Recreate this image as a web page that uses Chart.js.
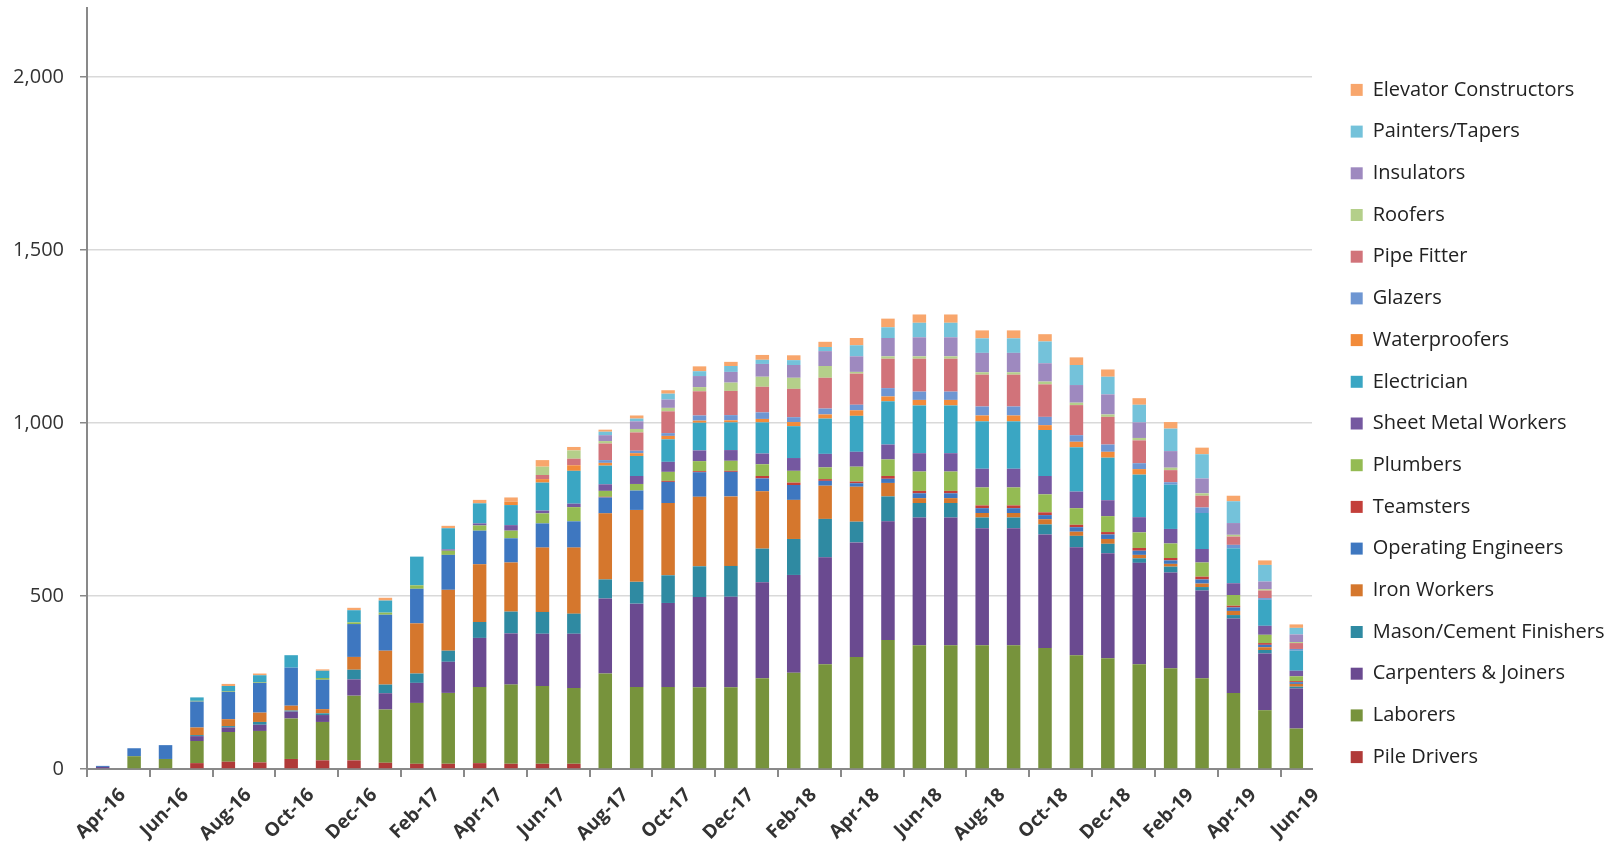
<!DOCTYPE html>
<html>
<head>
<meta charset="utf-8">
<script src="https://cdn.jsdelivr.net/npm/chart.js@4.4.1/dist/chart.umd.min.js"></script>
<style>
  html, body { margin: 0; padding: 0; background: #fff; }
  #wrap { width: 1620px; height: 849px; }
</style>
</head>
<body>
<div id="wrap"><canvas id="chart"></canvas></div>
<script>
var months = ["Apr-16","May-16","Jun-16","Jul-16","Aug-16","Sep-16","Oct-16","Nov-16","Dec-16","Jan-17","Feb-17","Mar-17",
  "Apr-17","May-17","Jun-17","Jul-17","Aug-17","Sep-17","Oct-17","Nov-17","Dec-17","Jan-18","Feb-18","Mar-18",
  "Apr-18","May-18","Jun-18","Jul-18","Aug-18","Sep-18","Oct-18","Nov-18","Dec-18","Jan-19","Feb-19","Mar-19",
  "Apr-19","May-19","Jun-19"];

var pileDrivers   = [0,0,0,17,21,19,29,25,25,18,15,15,17,15,15,15,0,0,0,0,0,0,0,0,0,0,0,0,0,0,0,0,0,0,0,0,0,0,0];
var laborers      = [0,37,29,64,86,91,117,111,187,154,176,205,220,229,225,219,276,237,237,236,236,262,278,303,324,373,358,358,358,358,350,329,320,303,291,262,220,170,117];
var carpenters    = [6,0,0,14,13,18,20,20,47,47,58,90,142,148,151,157,217,241,243,261,262,278,283,309,331,343,369,369,338,338,328,312,304,293,277,254,215,164,116];
var masons        = [0,0,0,3,4,8,3,5,28,25,27,32,46,63,63,58,55,63,80,89,89,97,104,111,60,72,42,42,31,31,29,33,27,13,17,10,10,10,5];
var ironWorkers   = [0,0,0,22,20,27,14,12,37,98,145,176,167,142,186,191,191,208,209,201,201,166,113,96,101,39,14,14,13,13,15,12,14,10,8,10,12,8,8];
var operatingEng  = [3,23,40,75,79,86,110,85,95,104,100,101,97,70,70,76,46,56,61,71,71,37,43,14,10,12,14,14,14,14,12,13,13,12,10,12,10,7,5];
var teamsters     = [0,0,0,0,0,0,0,0,0,0,0,0,0,0,0,0,2,0,3,3,3,7,7,5,5,8,7,7,8,8,8,7,7,8,7,8,5,5,3];
var plumbers      = [0,0,0,2,2,2,0,5,5,6,10,12,15,22,29,41,17,19,26,29,29,34,34,34,43,48,56,56,52,52,52,48,46,45,42,41,31,24,14];
var sheetMetal    = [0,0,0,0,0,0,0,0,0,0,0,4,6,16,8,10,19,23,29,31,31,31,37,39,43,43,53,53,54,54,53,48,46,44,42,39,34,26,16];
var electricians  = [0,0,0,10,15,20,36,21,35,35,83,61,58,58,81,95,54,58,65,80,80,90,92,102,104,125,138,138,137,137,133,128,123,123,128,104,101,75,58];
var waterproofers = [0,0,0,0,0,0,0,0,0,0,0,0,0,10,10,16,8,8,10,6,6,10,12,12,16,14,16,16,17,17,14,16,17,16,0,0,0,0,0];
var glazers       = [0,0,0,0,0,0,0,0,0,0,0,0,0,0,0,0,8,7,8,15,15,19,14,17,16,24,24,24,26,26,24,19,21,17,7,16,10,5,5];
var pipeFitters   = [0,0,0,0,0,0,0,0,0,0,0,0,0,0,12,19,48,53,63,70,70,74,82,89,90,85,95,95,92,92,94,87,80,66,35,34,24,22,17];
var roofers       = [0,0,0,0,0,0,0,0,0,0,0,0,0,0,24,24,7,10,10,12,24,29,32,34,5,7,7,7,7,7,8,7,7,7,7,7,5,4,3];
var insulators    = [0,0,0,0,0,0,0,0,0,0,0,0,0,0,0,0,17,22,24,32,31,37,37,43,45,53,55,55,56,56,53,51,58,45,48,43,34,22,22];
var painters      = [0,0,0,0,0,0,0,0,0,0,0,0,0,0,0,0,10,8,17,14,17,12,14,12,32,31,42,42,42,42,63,58,51,51,65,70,63,48,19];
var elevator      = [0,0,0,0,6,5,0,4,7,8,0,7,10,12,19,10,6,9,10,14,12,14,14,15,21,25,24,24,23,23,21,22,21,19,19,19,16,13,10];

var yTicks = [0, 500, 1000, 1500, 2000];

// bottom of the stack first
var SERIES = [
  { label: "Pile Drivers", data: pileDrivers, color: "#B03A38" },
  { label: "Laborers", data: laborers, color: "#77933C" },
  { label: "Carpenters & Joiners", data: carpenters, color: "#6A4A90" },
  { label: "Mason/Cement Finishers", data: masons, color: "#2F8AA2" },
  { label: "Iron Workers", data: ironWorkers, color: "#D5772D" },
  { label: "Operating Engineers", data: operatingEng, color: "#3E77C0" },
  { label: "Teamsters", data: teamsters, color: "#C33F3A" },
  { label: "Plumbers", data: plumbers, color: "#94BB53" },
  { label: "Sheet Metal Workers", data: sheetMetal, color: "#7558A0" },
  { label: "Electrician", data: electricians, color: "#3AA6C3" },
  { label: "Waterproofers", data: waterproofers, color: "#F28B3A" },
  { label: "Glazers", data: glazers, color: "#6E96D2" },
  { label: "Pipe Fitter", data: pipeFitters, color: "#D1737A" },
  { label: "Roofers", data: roofers, color: "#B4CF8A" },
  { label: "Insulators", data: insulators, color: "#9E89BF" },
  { label: "Painters/Tapers", data: painters, color: "#74C2DA" },
  { label: "Elevator Constructors", data: elevator, color: "#F8A66C" }
];

var FONT = "'Open Sans', 'Liberation Sans', sans-serif";
var AXIS = "#898989";

// legend sits in a fixed band right of the plot
var legendBand = {
  id: "legendBand",
  beforeInit: function (chart) {
    var fit = chart.legend.fit;
    chart.legend.fit = function () {
      fit.call(this);
      this.width = 308;
    };
  },
  afterLayout: function (chart) {
    var lg = chart.legend;
    lg.left += 17; lg.right += 17;
    lg.top -= 5; lg.bottom -= 5;
  }
};

new Chart(document.getElementById("chart"), {
  type: "bar",
  data: {
    labels: months,
    datasets: SERIES.map(function (s) {
      return {
        label: s.label,
        data: s.data,
        backgroundColor: s.color,
        borderWidth: 0,
        barPercentage: 0.43,
        categoryPercentage: 1.0
      };
    })
  },
  options: {
    responsive: true,
    maintainAspectRatio: false,
    animation: false,
    devicePixelRatio: 1,
    layout: { padding: { top: 8, right: 0, bottom: 0, left: 0 } },
    plugins: {
      legend: {
        position: "right",
        reverse: true,
        labels: {
          boxWidth: 12,
          boxHeight: 12,
          padding: 21.7,
          color: "#222",
          font: { family: FONT, size: 20 }
        }
      },
      tooltip: { enabled: false }
    },
    scales: {
      x: {
        stacked: true,
        offset: true,
        grid: {
          offset: true,
          drawOnChartArea: false,
          tickLength: 8,
          lineWidth: 2,
          tickColor: function (ctx) { return ctx.index % 2 === 0 ? AXIS : "rgba(0,0,0,0)"; }
        },
        border: { color: AXIS, width: 2 },
        ticks: {
          autoSkip: false,
          maxRotation: 45,
          minRotation: 45,
          padding: 7,
          labelOffset: 20,
          color: "#333",
          font: { family: FONT, size: 19, weight: "bold" },
          callback: function (v, i) { return i % 2 === 0 ? months[i] : ""; }
        },
        afterFit: function (scale) {
          scale.height = 80;
          scale.paddingLeft = 0;
          scale.paddingRight = 0;
        }
      },
      y: {
        stacked: true,
        min: 0,
        max: 2200,
        grid: { color: "#D9D9D9", lineWidth: 1.5, tickLength: 7, tickColor: AXIS },
        border: { color: AXIS, width: 2 },
        ticks: {
          stepSize: 500,
          padding: 16,
          color: "#333",
          font: { family: FONT, size: 20 },
          callback: function (v) { return v.toLocaleString("en-US"); }
        },
        afterBuildTicks: function (scale) {
          scale.ticks = yTicks.map(function (v) { return { value: v }; });
        },
        afterFit: function (scale) {
          scale.width = 87;
          scale.paddingTop = 0;
          scale.paddingBottom = 0;
        }
      }
    }
  },
  plugins: [legendBand]
});
</script>
</body>
</html>
